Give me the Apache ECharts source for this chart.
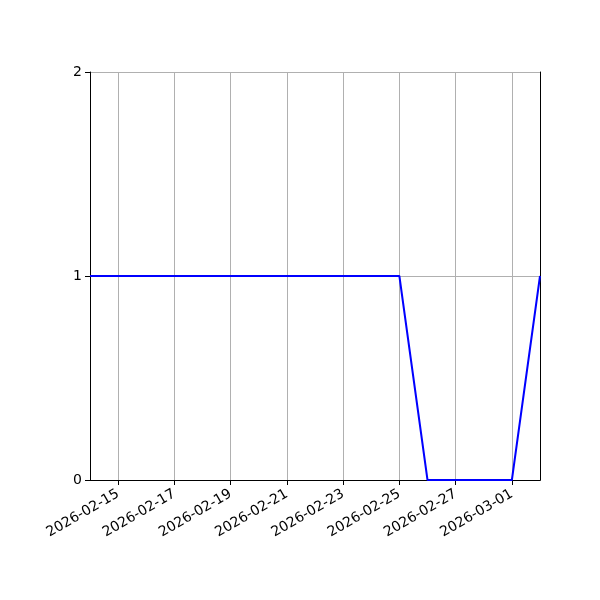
<!DOCTYPE html>
<html><head><meta charset="utf-8">
<script src="https://cdn.jsdelivr.net/npm/echarts@6/dist/echarts.min.js"></script>
<style>html,body{margin:0;padding:0;background:#fff}#c{width:600px;height:600px}</style>
</head><body><div id="c"></div>
<script>
const dates = ['2026-02-14','2026-02-15','2026-02-16','2026-02-17','2026-02-18','2026-02-19','2026-02-20','2026-02-21','2026-02-22','2026-02-23','2026-02-24','2026-02-25','2026-02-26','2026-02-27','2026-02-28','2026-03-01','2026-03-02'];
const values = [1,1,1,1,1,1,1,1,1,1,1,1,0,0,0,0,1];
const yTicks = [0,1,2];

const chart = echarts.init(document.getElementById('c'), null, {renderer:'canvas'});
const shown = (i) => i % 2 === 1;
chart.setOption({
  animation:false,
  grid:{left:90,right:60,top:72,bottom:120},
  xAxis:[{
    type:'category', data:dates, boundaryGap:false,
    axisLine:{show:true,lineStyle:{color:'#000',width:1}},
    axisTick:{show:true,interval:(i)=>shown(i),length:5,lineStyle:{color:'#000',width:1}},
    axisLabel:{interval:(i)=>shown(i),rotate:30,color:'#000',fontFamily:'DejaVu Sans',fontSize:14,margin:13},
    splitLine:{show:true,interval:(i)=>shown(i),lineStyle:{color:'#b0b0b0',width:1}}
  },{
    type:'category', data:dates, boundaryGap:false, position:'top', z:3,
    axisLine:{show:true,lineStyle:{color:'#000',width:1}},
    axisTick:{show:false}, axisLabel:{show:false}, splitLine:{show:false}
  }],
  yAxis:[{
    type:'value', min:yTicks[0], max:yTicks[yTicks.length-1], interval:1,
    axisLine:{show:true,lineStyle:{color:'#000',width:1}},
    axisTick:{show:true,length:5,lineStyle:{color:'#000',width:1}},
    axisLabel:{color:'#000',fontFamily:'DejaVu Sans',fontSize:14,margin:8},
    splitLine:{show:true,lineStyle:{color:'#b0b0b0',width:1}}
  },{
    type:'value', min:yTicks[0], max:yTicks[yTicks.length-1], interval:1, position:'right', z:3,
    axisLine:{show:true,lineStyle:{color:'#000',width:1}},
    axisTick:{show:false}, axisLabel:{show:false}, splitLine:{show:false}
  }],
  series:[{type:'line',data:values,showSymbol:false,symbol:'none',lineStyle:{color:'#0000ff',width:2},z:5}]
});
</script></body></html>
